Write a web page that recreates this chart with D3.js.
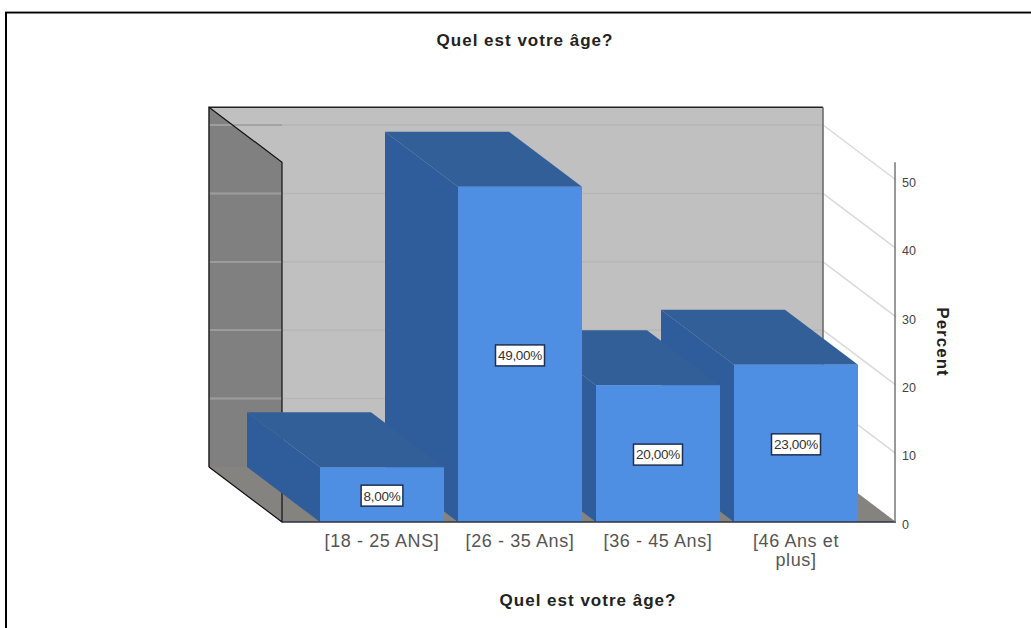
<!DOCTYPE html>
<html>
<head>
<meta charset="utf-8">
<script src="https://cdn.jsdelivr.net/npm/d3@7"></script>
<style>
  html, body { margin: 0; padding: 0; background: #fff; }
  svg { display: block; font-family: "Liberation Sans", Arial, sans-serif; }
</style>
</head>
<body>
<svg id="chart" width="1031" height="628"></svg>
<script>
// Age distribution of respondents, percent per age group
const categories = ["[18 - 25 ANS]", "[26 - 35 Ans]", "[36 - 45 Ans]", "[46 Ans et plus]"];
const percents = [8, 49, 20, 23];
const valueLabels = ["8,00%", "49,00%", "20,00%", "23,00%"];
const yTicks = [0, 10, 20, 30, 40, 50];
const chartTitle = "Quel est votre âge?";
const yTitle = "Percent";

const svg = d3.select("#chart");

// Front plane scales; the oblique depth shifts everything up and to the left
const depthX = 73, depthY = 55;
const plotLeft = 282, plotRight = 896;
const y = d3.scaleLinear().domain([0, 50]).range([522, 180]);
const yMax = 52.6;
const x = d3.scaleBand().domain(categories).range([320, 858]).paddingInner(14 / 138);

const poly = pts => pts.map(p => p.join(",")).join(" ");
const back = ([px, py]) => [px - depthX, py - depthY];

// Outer frame, open at the bottom and on the right
svg.append("path")
  .attr("d", "M6,628V12.5H1031")
  .attr("fill", "none").attr("stroke", "#000").attr("stroke-width", 2);
svg.append("path")
  .attr("d", "M5,11.5H1031")
  .attr("fill", "none").attr("stroke", "#999").attr("stroke-width", 1);

const wallTop = y(yMax), base = y(0);

// Back wall, left wall and floor
svg.append("polygon")
  .attr("points", poly([back([plotLeft, wallTop]), back([plotRight, wallTop]), back([plotRight, base]), back([plotLeft, base])]))
  .attr("fill", "#c0c0c0");
svg.append("polygon")
  .attr("points", poly([back([plotLeft, wallTop]), [plotLeft, wallTop], [plotLeft, base], back([plotLeft, base])]))
  .attr("fill", "#808080");
svg.append("polygon")
  .attr("points", poly([back([plotLeft, base]), [plotLeft, base], [plotRight, base], back([plotRight, base])]))
  .attr("fill", "#858380");

// Grid lines on the walls and the diagonals that lead out to the axis
const grid = yTicks.filter(t => t > 0);
svg.selectAll("line.back").data(grid).join("line").attr("class", "back")
  .attr("x1", plotLeft - depthX).attr("x2", plotRight - depthX)
  .attr("y1", d => y(d) - depthY).attr("y2", d => y(d) - depthY)
  .attr("stroke", "#b6b6b6").attr("stroke-width", 1.5);
svg.selectAll("line.side").data(grid).join("line").attr("class", "side")
  .attr("x1", plotLeft - depthX).attr("x2", plotLeft)
  .attr("y1", d => y(d) - depthY).attr("y2", d => y(d) - depthY)
  .attr("stroke", "#9c9c9c").attr("stroke-width", 1.5);
svg.selectAll("line.diag").data(grid).join("line").attr("class", "diag")
  .attr("x1", plotRight - depthX).attr("x2", plotRight)
  .attr("y1", d => y(d) - depthY).attr("y2", d => y(d))
  .attr("stroke", "#dadada").attr("stroke-width", 1.5);

// Wall outlines
const outline = (pts, color, w) => svg.append("polyline")
  .attr("points", poly(pts)).attr("fill", "none").attr("stroke", color).attr("stroke-width", w);
outline([back([plotLeft, base]), back([plotLeft, wallTop]), back([plotRight, wallTop])], "#222", 1.5);
outline([back([plotRight, wallTop]), back([plotRight, base])], "#666", 1.5);
outline([back([plotLeft, wallTop]), [plotLeft, wallTop], [plotLeft, base], back([plotLeft, base])], "#111", 1.2);

// Boxes go from right to left so that each one overlaps its right-hand neighbour
const rows = categories.map((c, i) => ({ c, v: percents[i], label: valueLabels[i] })).reverse();
const boxes = svg.selectAll("g.box").data(rows).join("g").attr("class", "box");
boxes.append("polygon").attr("fill", "#2f5c9a").attr("points", d => {
  const x0 = x(d.c), t = y(d.v);
  return poly([back([x0, t]), [x0, t], [x0, base], back([x0, base])]);
});
boxes.append("polygon").attr("fill", "#335f98").attr("points", d => {
  const x0 = x(d.c), x1 = x0 + x.bandwidth(), t = y(d.v);
  return poly([back([x0, t]), back([x1, t]), [x1, t], [x0, t]]);
});
boxes.append("rect").attr("fill", "#4f8fe3")
  .attr("x", d => x(d.c)).attr("width", x.bandwidth())
  .attr("y", d => y(d.v)).attr("height", d => base - y(d.v));

// Floor front edge sits on top of the boxes
svg.append("line").attr("x1", plotLeft).attr("x2", plotRight).attr("y1", base).attr("y2", base)
  .attr("stroke", "#2b3440").attr("stroke-width", 1.5);

// Value labels in white boxes sized to their text, at the middle of each bar
const tags = svg.selectAll("g.tag").data(rows).join("g").attr("class", "tag")
  .attr("transform", d => `translate(${x(d.c) + x.bandwidth() / 2},${(y(d.v) + base) / 2 + 1})`);
const tagBoxes = tags.append("rect").attr("y", -10.5).attr("height", 21)
  .attr("fill", "#fff").attr("stroke", "#1f2f50").attr("stroke-width", 1.5);
const tagTexts = tags.append("text").attr("text-anchor", "middle").attr("dy", "0.36em")
  .attr("font-size", 13.5).attr("letter-spacing", -0.3).attr("fill", "#333").text(d => d.label);
tagBoxes.each(function (d, i) {
  const w = tagTexts.nodes()[i].getComputedTextLength() + 5;
  d3.select(this).attr("x", -w / 2).attr("width", w);
});

// Value axis on the front right edge
const yAxis = svg.append("g").attr("transform", `translate(${plotRight - 1},0)`)
  .call(d3.axisRight(y).tickValues(yTicks).tickSize(0).tickPadding(7).tickFormat(d3.format("d")));
yAxis.select(".domain").attr("d", `M0,${wallTop}V${base}`).attr("stroke", "#777").attr("stroke-width", 1.5);
yAxis.selectAll("text").attr("font-size", 12.5).attr("fill", "#444")
  .attr("font-family", "'Liberation Sans', Arial, sans-serif").attr("dy", "0.5em");

// Category axis, wrapping long labels onto a second line
const xAxis = svg.append("g").attr("transform", `translate(0,${base})`)
  .call(d3.axisBottom(x).tickSize(0).tickPadding(12));
xAxis.select(".domain").remove();
xAxis.selectAll("text")
  .attr("font-size", 18).attr("letter-spacing", 0.6).attr("fill", "#555")
  .attr("font-family", "'Liberation Sans', Arial, sans-serif")
  .each(function (d) {
    const node = d3.select(this);
    if (this.getComputedTextLength() <= x.bandwidth()) return;
    const words = d.split(" ");
    const tail = words.pop();
    node.text(null);
    node.append("tspan").attr("x", 0).text(words.join(" "));
    node.append("tspan").attr("x", 0).attr("dy", 19).text(tail);
  });

// Titles
const bold = sel => sel.attr("font-size", 17).attr("letter-spacing", 1)
  .attr("font-weight", "bold").attr("fill", "#222");
svg.append("text").attr("x", 525).attr("y", 46).attr("text-anchor", "middle").call(bold).text(chartTitle);
svg.append("text").attr("x", 588).attr("y", 606).attr("text-anchor", "middle").call(bold).text(chartTitle);
svg.append("text").attr("transform", "translate(937,342) rotate(90)").attr("text-anchor", "middle").call(bold).text(yTitle);
</script>
</body>
</html>
